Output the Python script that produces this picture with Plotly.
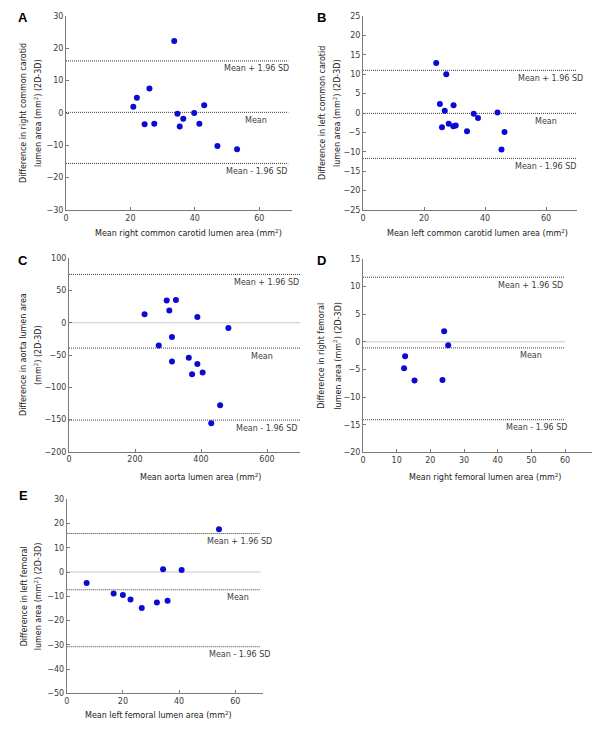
import plotly.graph_objects as go

# ---------------- data ----------------
a_mean = [20.9, 22.0, 24.4, 25.9, 27.4, 33.6, 34.6, 35.3, 36.4, 39.8, 41.4, 42.9, 47.0, 53.1]
a_diff = [1.9, 4.7, -3.5, 7.6, -3.3, 22.3, -0.2, -4.2, -1.8, 0.0, -3.3, 2.4, -10.2, -11.2]
a_limits = [16.1, 0.2, -15.6]  # upper, mean, lower

b_mean = [24.0, 27.3, 25.2, 26.8, 28.1, 25.9, 29.7, 29.6, 30.4, 34.1, 36.3, 37.7, 44.1, 45.4, 46.4]
b_diff = [12.9, 10.0, 2.3, 0.6, -2.8, -3.7, 2.0, -3.4, -3.2, -4.7, -0.2, -1.3, 0.1, -9.4, -4.9]
b_limits = [11.0, -0.1, -11.7]

c_mean = [229, 272, 296, 304, 324, 312, 312, 363, 389, 389, 373, 405, 431, 458, 483]
c_diff = [13.4, -35.2, 34.7, 19.1, 35.2, -22.2, -60.0, -54.3, 8.8, -64.1, -79.7, -77.1, -155.7, -127.8, -8.3]
c_limits = [75.0, -39.3, -151.0]

d_mean = [12.5, 12.2, 15.3, 23.6, 24.1, 25.3]
d_diff = [-2.6, -4.8, -7.0, -6.9, 1.9, -0.6]
d_limits = [11.7, -1.1, -14.1]

e_mean = [7.1, 16.7, 20.0, 22.7, 26.7, 32.1, 34.3, 35.9, 40.9, 54.2]
e_diff = [-4.5, -8.8, -9.5, -11.3, -14.8, -12.6, 1.2, -11.8, 0.8, 17.7]
e_limits = [15.9, -7.3, -30.8]

panel_letters = ["A", "B", "C", "D", "E"]
y_titles = [
    ["Difference in right common carotid", "lumen area (mm<sup>2</sup>) (2D-3D)"],
    ["Difference in left common carotid", "lumen area (mm<sup>2</sup>) (2D-3D)"],
    ["Difference in aorta lumen area", "(mm<sup>2</sup>) (2D-3D)"],
    ["Difference in right femoral", "lumen area (mm<sup>2</sup>) (2D-3D)"],
    ["Difference in left femoral", "lumen area (mm<sup>2</sup>) (2D-3D)"],
]
x_titles = [
    "Mean right common carotid lumen area (mm<sup>2</sup>)",
    "Mean left common carotid lumen area (mm<sup>2</sup>)",
    "Mean aorta lumen area (mm<sup>2</sup>)",
    "Mean right femoral lumen area (mm<sup>2</sup>)",
    "Mean left femoral lumen area (mm<sup>2</sup>)",
]
limit_labels = ["Mean + 1.96 SD", "Mean", "Mean - 1.96 SD"]

# ---------------- layout config ----------------
# the page body adds an 8px offset; figure is sized so it fits the 600x730 window
OFF = 8
W, H = 600 - 2 * OFF, 730 - 2 * OFF
FONT = "DejaVu Sans, sans-serif"

def px(x):
    return (x - OFF) / W

def py(y):
    return 1 - (y - OFF) / H

panels = [
    dict(mean=a_mean, diff=a_diff, lim=a_limits, box=(66, 16, 291.5, 210),
         xr=[0, 70], xt=[0, 20, 40, 60], yr=[-30, 30], yt=list(range(-30, 31, 10)),
         zero=False, line_x1=69, lab_x=[59.2, 59.0, 59.0], xt_pos=(188, 233),
         yt_x=(23, 38), letter=(23, 18)),
    dict(mean=b_mean, diff=b_diff, lim=b_limits, box=(363, 16, 576.5, 210),
         xr=[0, 70], xt=[0, 20, 40, 60], yr=[-25, 25], yt=list(range(-25, 26, 5)),
         zero=False, line_x1=70, lab_x=[61.5, 60.0, 59.7], xt_pos=(477, 233),
         yt_x=(322, 337), letter=(321, 18)),
    dict(mean=c_mean, diff=c_diff, lim=c_limits, box=(69, 258.3, 300, 451.7),
         xr=[0, 700], xt=[0, 200, 400, 600], yr=[-200, 100], yt=list(range(-200, 101, 50)),
         zero=True, line_x1=700, lab_x=[598, 585, 597], xt_pos=(200, 477),
         yt_x=(23, 38), letter=(23, 260)),
    dict(mean=d_mean, diff=d_diff, lim=d_limits, box=(363, 259, 592, 452.3),
         xr=[0, 68], xt=[0, 10, 20, 30, 40, 50, 60], yr=[-20, 15], yt=list(range(-20, 16, 5)),
         zero=True, line_x1=60, lab_x=[49.7, 50.0, 51.5], xt_pos=(485, 477),
         yt_x=(322, 337), letter=(321, 260)),
    dict(mean=e_mean, diff=e_diff, lim=e_limits, box=(66.7, 499.3, 263.4, 693.3),
         xr=[0, 70], xt=[0, 20, 40, 60], yr=[-50, 30], yt=list(range(-50, 31, 10)),
         zero=True, line_x1=69, lab_x=[61.5, 61.0, 61.5], xt_pos=(158.7, 715),
         yt_x=(24, 38), letter=(23, 495)),
]

fig = go.Figure()
shapes = []
annotations = []
layout_axes = {}

AXCOL = "#7a7a7a"
TICKCOL = "#3a3a3a"
TICKSIZE = 8
LABSIZE = 8
TITLESIZE = 8

for i, p in enumerate(panels):
    n = "" if i == 0 else str(i + 1)
    xa, ya = "x" + n, "y" + n
    x0, y0, x1, y1 = p["box"]
    layout_axes["xaxis" + n] = dict(
        domain=[max(0, px(x0)), min(1, px(x1))], range=p["xr"], anchor=ya, automargin=False,
        tickvals=p["xt"], ticks="inside", ticklen=3, tickcolor=AXCOL,
        showline=True, linecolor=AXCOL, linewidth=1, showgrid=False, zeroline=False,
        tickfont=dict(family=FONT, size=TICKSIZE, color=TICKCOL), fixedrange=True,
    )
    layout_axes["yaxis" + n] = dict(
        domain=[py(y1), py(y0)], range=p["yr"], anchor=xa, automargin=False,
        tickvals=p["yt"], ticks="inside", ticklen=3, tickcolor=AXCOL,
        showline=True, linecolor=AXCOL, linewidth=1, showgrid=False, zeroline=False,
        tickfont=dict(family=FONT, size=TICKSIZE, color=TICKCOL), fixedrange=True,
    )
    if p["zero"]:
        shapes.append(dict(type="line", xref=xa, yref=ya, x0=0, x1=p["line_x1"], y0=0, y1=0,
                           line=dict(color="#c8c8c8", width=1), layer="below"))
    for v in p["lim"]:
        shapes.append(dict(type="line", xref=xa, yref=ya, x0=0, x1=p["line_x1"], y0=v, y1=v,
                           line=dict(color="#3a3a3a", width=1, dash="1px,1px"), layer="below"))
    for v, lbl, lx in zip(p["lim"], limit_labels, p["lab_x"]):
        annotations.append(dict(x=lx, y=v, xref=xa, yref=ya, text=lbl, showarrow=False,
                                xanchor="center", yanchor="middle", yshift=-8,
                                font=dict(family=FONT, size=LABSIZE, color="#404040")))
    fig.add_trace(go.Scatter(
        x=p["mean"], y=p["diff"], mode="markers", xaxis=xa, yaxis=ya,
        marker=dict(color="#0a0ad2", size=6), showlegend=False, hoverinfo="skip",
        cliponaxis=False,
    ))
    # axis titles
    cx, cy = p["xt_pos"]
    annotations.append(dict(x=px(cx), y=py(cy), xref="paper", yref="paper", text=x_titles[i],
                            showarrow=False, xanchor="center", yanchor="middle",
                            font=dict(family=FONT, size=TITLESIZE, color="#222222")))
    ymid = (y0 + y1) / 2
    for k, t in enumerate(y_titles[i]):
        annotations.append(dict(x=px(p["yt_x"][k]), y=py(ymid), xref="paper", yref="paper", text=t,
                                showarrow=False, textangle=-90, xanchor="center", yanchor="middle",
                                font=dict(family=FONT, size=TITLESIZE, color="#222222")))
    lx_, ly_ = p["letter"]
    annotations.append(dict(x=px(lx_), y=py(ly_), xref="paper", yref="paper",
                            text="<b>" + panel_letters[i] + "</b>", showarrow=False,
                            xanchor="center", yanchor="middle",
                            font=dict(family="Liberation Sans, Arial, sans-serif", size=13, color="#000000")))

fig.update_layout(
    width=W, height=H, margin=dict(l=0, r=0, t=0, b=0, pad=0, autoexpand=False),
    paper_bgcolor="white", plot_bgcolor="white",
    shapes=shapes, annotations=annotations, **layout_axes,
)

fig.write_html("out.html")
